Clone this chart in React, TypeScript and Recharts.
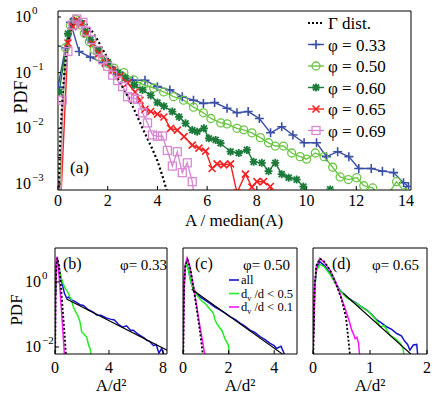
import { LineChart, Line, XAxis, YAxis, Legend } from "recharts";

const SERIF = "'Liberation Serif', 'Times New Roman', serif";

type Pt = [number, number | null];

// ---- panel (a): PDF of A / median(A)
const gammaDist: Pt[] = [
  [0.02, 0.0006], [0.1, 0.008], [0.2, 0.05], [0.3, 0.16], [0.4, 0.35], [0.5, 0.55],
  [0.6, 0.72], [0.7, 0.83], [0.8, 0.88], [0.9, 0.88], [1.0, 0.84], [1.2, 0.7],
  [1.4, 0.53], [1.6, 0.38], [1.8, 0.26], [2.0, 0.18], [2.2, 0.12], [2.4, 0.08],
  [2.6, 0.055], [2.8, 0.038], [3.0, 0.025], [3.2, 0.016], [3.4, 0.01], [3.6, 0.0065],
  [3.8, 0.0042], [4.0, 0.0026], [4.2, 0.0014], [4.4, 0.0007],
];
const phi033: Pt[] = [
  [0, 0.055], [0.3, 0.28], [0.5, 0.8], [0.85, 0.24], [1.3, 0.19], [1.8, 0.15],
  [2.25, 0.11], [2.6, 0.087], [3.0, 0.073], [3.5, 0.073], [4.0, 0.056], [4.5, 0.049],
  [5.0, 0.037], [5.45, 0.032], [5.85, 0.028], [6.3, 0.029], [6.8, 0.023], [7.2, 0.019],
  [7.65, 0.02], [8.1, 0.015], [8.55, 0.0083], [9.0, 0.0107], [9.45, 0.0076], [9.9, 0.0055],
  [10.4, 0.0055], [10.8, 0.0031], [11.25, 0.0038], [11.7, 0.0031], [12.1, 0.0019],
  [12.6, 0.0019], [13.05, 0.0017], [13.5, 0.0016], [13.9, 0.00105], [14.1, 0.0009],
];
const phi050: Pt[] = [
  [0.05, 0.0005], [0.3, 0.28], [0.5, 0.7], [0.7, 0.9], [0.9, 0.72], [1.06, 0.51],
  [1.26, 0.36], [1.46, 0.26], [1.66, 0.19], [1.99, 0.147], [2.25, 0.12], [2.65, 0.1],
  [3.05, 0.074], [3.45, 0.06], [3.85, 0.053], [4.25, 0.045], [4.65, 0.037], [5.05, 0.032],
  [5.45, 0.024], [5.85, 0.019], [6.15, 0.015], [6.55, 0.0125], [6.8, 0.012], [7.2, 0.01],
  [7.47, 0.0094], [7.8, 0.0083], [8.14, 0.0068], [8.47, 0.0055], [8.74, 0.0048],
  [9.07, 0.0048], [9.4, 0.0036], [9.74, 0.0031], [10.0, 0.0028], [10.35, 0.0036],
  [10.7, 0.0031], [11.05, 0.002], [11.35, 0.00134], [11.68, 0.0012], [12.02, 0.0013],
  [12.3, 0.00093], [12.66, 0.00085], [13.1, 0.0005], [13.62, 0.0011], [13.96, 0.0007],
];
const phi060: Pt[] = [
  [0.05, 0.045], [0.4, 0.5], [0.65, 0.85], [0.9, 0.78], [1.1, 0.55], [1.3, 0.39],
  [1.65, 0.25], [2.0, 0.155], [2.4, 0.1], [2.7, 0.08], [3.07, 0.06], [3.4, 0.049],
  [3.73, 0.039], [4.0, 0.029], [4.26, 0.025], [4.6, 0.02], [4.87, 0.016], [5.13, 0.0123],
  [5.4, 0.0093], [5.6, 0.0087], [5.87, 0.01], [6.07, 0.0066], [6.34, 0.0062], [6.54, 0.0054],
  [6.94, 0.0038], [7.27, 0.0036], [7.6, 0.0041], [7.87, 0.0025], [8.2, 0.0024],
  [8.47, 0.0017], [8.74, 0.0024], [9.0, 0.0015], [9.28, 0.0013], [9.6, 0.0012],
  [9.87, 0.0009], [10.1, 0.0005], [10.5, null], [10.95, 0.0008],
];
const phi065: Pt[] = [
  [0.12, 0.0006], [0.4, 0.34], [0.6, 0.67], [0.75, 0.88], [0.95, 0.75], [1.15, 0.5],
  [1.4, 0.33], [1.65, 0.22], [1.9, 0.15], [2.2, 0.11], [2.5, 0.087], [2.8, 0.065],
  [3.1, 0.045], [3.3, 0.032], [3.5, 0.022], [3.73, 0.02], [4.0, 0.018], [4.26, 0.016],
  [4.53, 0.01], [4.8, 0.0093], [5.07, 0.0071], [5.4, 0.005], [5.67, 0.0044], [5.94, 0.0039],
  [6.2, 0.0019], [6.4, 0.0023], [6.67, 0.0022], [6.94, 0.0023], [7.2, 0.0007],
  [7.54, 0.0015], [7.8, 0.00088], [8.0, 0.0011], [8.27, 0.0011], [8.54, 0.0009], [8.65, 0.0006],
];
const phi069: Pt[] = [
  [0.12, 0.0005], [0.17, 0.032], [0.4, 0.24], [0.6, 0.72], [0.76, 0.92], [1.0, 0.8],
  [1.15, 0.55], [1.35, 0.39], [1.6, 0.25], [1.8, 0.17], [2.0, 0.13], [2.2, 0.09],
  [2.4, 0.072], [2.6, 0.056], [2.8, 0.037], [3.0, 0.035], [3.2, 0.033], [3.4, 0.019],
  [3.6, 0.0125], [3.8, 0.0076], [4.0, 0.0072], [4.2, 0.0073], [4.4, 0.004], [4.6, 0.0021],
  [4.8, 0.0038], [5.0, 0.0016], [5.2, 0.0024], [5.4, 0.0011], [5.5, 0.0005],
];

const MAIN_X_TICKS = [0, 2, 4, 6, 8, 10, 12, 14];
const MAIN_Y_MAJOR = [0.001, 0.01, 0.1, 1];
const MINOR = [1, 2, 3, 4, 5, 6, 7, 8, 9];
const MAIN_Y_TICKS = MAIN_Y_MAJOR.flatMap((d) => MINOR.map((k) => d * k)).filter((v) => v <= 1.28);

// ---- panels (b)-(d): PDF of A/d^2
const bAll: Pt[] = [
  [0.05, 0.4], [0.12, 3.5], [0.2, 4.5], [0.3, 2.6], [0.4, 1.6], [0.55, 0.8], [0.7, 0.45],
  [0.86, 0.32], [1.0, 0.34], [1.23, 0.28], [1.5, 0.25], [1.85, 0.2], [2.1, 0.19],
  [2.47, 0.14], [2.8, 0.12], [3.1, 0.097], [3.4, 0.095], [3.8, 0.078], [4.1, 0.072],
  [4.4, 0.068], [4.7, 0.05], [5.0, 0.041], [5.3, 0.045], [5.6, 0.033], [5.8, 0.033],
  [6.1, 0.026], [6.3, 0.023], [6.6, 0.019], [6.8, 0.016], [7.0, 0.015], [7.3, 0.011],
  [7.5, 0.012], [7.7, 0.0065], [7.9, 0.009], [8.1, 0.0055],
];
const bLt05: Pt[] = [
  [0.05, 0.4], [0.12, 3.2], [0.2, 4.2], [0.3, 2.5], [0.45, 1.4], [0.6, 0.9], [0.75, 0.65],
  [0.86, 0.56], [1.0, 0.45], [1.1, 0.35], [1.2, 0.3], [1.36, 0.17], [1.5, 0.13],
  [1.73, 0.084], [1.85, 0.06], [1.98, 0.029], [2.15, 0.025], [2.35, 0.02], [2.5, 0.011],
  [2.6, 0.009], [2.7, 0.005],
];
const bLt01: Pt[] = [
  [0.0, 0.003], [0.05, 0.6], [0.1, 4], [0.15, 6], [0.25, 3], [0.35, 0.8], [0.45, 0.2],
  [0.55, 0.05], [0.65, 0.012], [0.72, 0.004],
];
const bGamma: Pt[] = [
  [0.0, 0.001], [0.05, 0.5], [0.1, 3.2], [0.18, 5.5], [0.3, 3.2], [0.4, 1.2], [0.5, 0.35],
  [0.6, 0.1], [0.7, 0.028], [0.8, 0.007], [0.85, 0.004],
];
const bFit: Pt[] = [[0.85, 0.3], [8.3, 0.008]];

const cAll: Pt[] = [
  [0.02, 0.3], [0.08, 2.5], [0.15, 3.8], [0.23, 2.6], [0.35, 1.0], [0.45, 0.6], [0.6, 0.45],
  [0.75, 0.35], [0.95, 0.28], [1.18, 0.22], [1.4, 0.17], [1.62, 0.14], [1.85, 0.11],
  [2.06, 0.086], [2.3, 0.07], [2.5, 0.054], [2.7, 0.045], [2.94, 0.033], [3.15, 0.028],
  [3.38, 0.021], [3.6, 0.017], [3.82, 0.013], [4.0, 0.011], [4.1, 0.009], [4.3, 0.0105],
  [4.47, 0.0055],
];
const cLt05: Pt[] = [
  [0.02, 0.3], [0.08, 2.4], [0.15, 3.6], [0.23, 2.5], [0.35, 1.0], [0.45, 0.6], [0.6, 0.4],
  [0.8, 0.27], [0.96, 0.22], [1.1, 0.17], [1.2, 0.14], [1.33, 0.11], [1.4, 0.07],
  [1.47, 0.054], [1.6, 0.04], [1.7, 0.033], [1.84, 0.018], [1.95, 0.013], [1.99, 0.0115],
  [2.05, 0.005],
];
const cLt01: Pt[] = [
  [0.0, 0.003], [0.05, 0.8], [0.1, 3.5], [0.18, 5.5], [0.3, 3.0], [0.45, 0.8], [0.6, 0.18],
  [0.75, 0.04], [0.9, 0.01], [0.97, 0.005],
];
const cGamma: Pt[] = [
  [0.0, 0.001], [0.05, 0.6], [0.1, 3.2], [0.2, 4.8], [0.3, 3.0], [0.45, 0.75], [0.6, 0.15],
  [0.75, 0.028], [0.88, 0.005],
];
const cFit: Pt[] = [[0.38, 0.6], [4.4, 0.0058]];

const dAll: Pt[] = [
  [0.0, 0.01], [0.03, 0.7], [0.06, 2.5], [0.12, 4.2], [0.2, 3.2], [0.3, 1.85], [0.4, 0.9],
  [0.47, 0.57], [0.59, 0.35], [0.68, 0.27], [0.77, 0.22], [0.85, 0.17], [0.94, 0.14],
  [1.03, 0.1], [1.12, 0.068], [1.2, 0.055], [1.29, 0.042], [1.38, 0.035], [1.47, 0.026],
  [1.55, 0.022], [1.61, 0.015], [1.66, 0.012], [1.7, 0.008], [1.76, 0.0115], [1.82, 0.012],
  [1.84, 0.005],
];
const dLt05: Pt[] = [
  [0.0, 0.01], [0.03, 0.6], [0.06, 2.2], [0.12, 3.5], [0.2, 2.9], [0.3, 1.7], [0.4, 0.85],
  [0.47, 0.55], [0.59, 0.33], [0.7, 0.25], [0.8, 0.2], [0.9, 0.15], [1.0, 0.11], [1.1, 0.07],
  [1.18, 0.042], [1.25, 0.045], [1.35, 0.023], [1.45, 0.018], [1.53, 0.013], [1.58, 0.009],
  [1.6, 0.005],
];
const dLt01: Pt[] = [
  [0.0, 0.005], [0.03, 0.7], [0.06, 3.0], [0.12, 5.4], [0.2, 4.0], [0.3, 2.3], [0.4, 1.0],
  [0.47, 0.45], [0.55, 0.18], [0.59, 0.11], [0.64, 0.06], [0.68, 0.033], [0.71, 0.025],
  [0.74, 0.018], [0.77, 0.02], [0.8, 0.013], [0.82, 0.005],
];
const dGamma: Pt[] = [
  [0.0, 0.002], [0.03, 0.8], [0.06, 3.2], [0.12, 5.2], [0.2, 4.2], [0.3, 2.3], [0.4, 0.9],
  [0.5, 0.3], [0.58, 0.08], [0.65, 0.0055],
];
const dFit: Pt[] = [[0.53, 0.45], [1.72, 0.006]];

const SMALL_Y_TICKS = [0.01, 1];

const rows = (pts: Pt[]) => pts.map(([x, y]) => ({ x, y }));

type MarkerKind = "plus" | "circle" | "star" | "cross" | "square";

function marker(kind: MarkerKind, cx: number, cy: number, color: string, key?: any) {
  if (cx == null || cy == null || isNaN(cx) || isNaN(cy)) return <g key={key} />;
  switch (kind) {
    case "plus":
      return <path key={key} d={`M${cx - 4.5},${cy}H${cx + 4.5}M${cx},${cy - 4.5}V${cy + 4.5}`} stroke={color} strokeWidth={1.6} fill="none" />;
    case "circle":
      return <circle key={key} cx={cx} cy={cy} r={4} stroke={color} strokeWidth={1.3} fill="none" />;
    case "star":
      return (
        <path key={key}
          d={`M${cx - 4},${cy}H${cx + 4}M${cx},${cy - 4}V${cy + 4}M${cx - 3},${cy - 3}L${cx + 3},${cy + 3}M${cx - 3},${cy + 3}L${cx + 3},${cy - 3}`}
          stroke={color} strokeWidth={1.8} fill="none" />
      );
    case "cross":
      return <path key={key} d={`M${cx - 3.5},${cy - 3.5}L${cx + 3.5},${cy + 3.5}M${cx - 3.5},${cy + 3.5}L${cx + 3.5},${cy - 3.5}`} stroke={color} strokeWidth={1.6} fill="none" />;
    default:
      return <rect key={key} x={cx - 4} y={cy - 4} width={8} height={8} stroke={color} strokeWidth={1.3} fill="none" />;
  }
}

const mainSeries = [
  { name: "\u03c6 = 0.33", data: phi033, color: "#3a4fa6", kind: "plus" as MarkerKind },
  { name: "\u03c6 = 0.50", data: phi050, color: "#6cc644", kind: "circle" as MarkerKind },
  { name: "\u03c6 = 0.60", data: phi060, color: "#1c7a3a", kind: "star" as MarkerKind },
  { name: "\u03c6 = 0.65", data: phi065, color: "#f22222", kind: "cross" as MarkerKind },
  { name: "\u03c6 = 0.69", data: phi069, color: "#d78ad2", kind: "square" as MarkerKind },
];

const isDecade = (v: number) => Math.abs(Math.log10(v) - Math.round(Math.log10(v))) < 1e-6;

function LogTick(props: any) {
  const { x, y, payload, size = 16 } = props;
  const v = payload.value as number;
  if (!isDecade(v)) return <g />;
  const e = Math.round(Math.log10(v));
  return (
    <g>
      <text x={x} y={y + 5} textAnchor="end" fontFamily={SERIF} fontSize={size} fill="#000">10</text>
      <text x={x + 1} y={y - 3} textAnchor="start" fontFamily={SERIF} fontSize={size * 0.68} fill="#000">
        {e === 0 ? "0" : `\u2212${-e}`}
      </text>
    </g>
  );
}

function MainLegend() {
  return (
    <svg width={115} height={130} style={{ display: "block" }}>
      <line x1={8} x2={24} y1={11} y2={11} stroke="#000" strokeWidth={2.2} strokeDasharray="2 2" />
      <text x={28} y={17} fontFamily={SERIF} fontSize={17}>{"\u0393  dist."}</text>
      {mainSeries.map((s, i) => {
        const cy = 11 + 21.5 * (i + 1);
        return (
          <g key={s.name}>
            <line x1={8} x2={24} y1={cy} y2={cy} stroke={s.color} strokeWidth={1.4} />
            {marker(s.kind, 16, cy, s.color)}
            <text x={28} y={cy + 6} fontFamily={SERIF} fontSize={17}>{s.name}</text>
          </g>
        );
      })}
    </svg>
  );
}

const axisText = { fontFamily: SERIF, fontSize: 16, fill: "#000" };

function MainPanel() {
  const xd: [number, number] = [0, 14.2];
  const yd: [number, number] = [0.00078, 1.28];
  return (
    <LineChart width={436} height={230} margin={{ top: 10, right: 24, bottom: 0, left: 0 }}>
      <XAxis xAxisId="b" type="number" dataKey="x" domain={xd} ticks={MAIN_X_TICKS} allowDataOverflow
        height={40} tickSize={-4} tickMargin={9} stroke="#000" tick={axisText} />
      <XAxis xAxisId="t" orientation="top" type="number" dataKey="x" domain={xd} ticks={MAIN_X_TICKS}
        allowDataOverflow height={1} tickSize={-4} tick={false} stroke="#000" />
      <YAxis yAxisId="l" type="number" scale="log" domain={yd} ticks={MAIN_Y_TICKS} allowDataOverflow
        width={58} tickSize={-3} tickMargin={30} stroke="#000" tick={<LogTick size={16} />} />
      <YAxis yAxisId="r" orientation="right" type="number" scale="log" domain={yd} ticks={MAIN_Y_TICKS}
        allowDataOverflow width={1} tickSize={-3} tick={false} stroke="#000" />
      {mainSeries.map((s) => (
        <Line key={s.name} xAxisId="b" yAxisId="l" data={rows(s.data)} dataKey="y" stroke={s.color}
          strokeWidth={1.4} connectNulls={false} activeDot={false} isAnimationActive={false}
          dot={(p: any) => marker(s.kind, p.cx, p.cy, s.color, p.index)} />
      ))}
      <Line xAxisId="b" yAxisId="l" data={rows(gammaDist)} dataKey="y" stroke="#000" strokeWidth={2.2}
        strokeDasharray="2 2.5" dot={false} activeDot={false} isAnimationActive={false} />
      <Legend layout="vertical" align="center" verticalAlign="middle" content={() => <MainLegend />}
        wrapperStyle={{ left: 300, top: 12, width: 115, height: 130 }} />
      <text x={70} y={173} fontFamily={SERIF} fontSize={17}>(a)</text>
      <text x={234} y={226} textAnchor="middle" fontFamily={SERIF} fontSize={17}>A / median(A)</text>
      <text x={21} y={97} textAnchor="middle" dominantBaseline="central" fontFamily={SERIF} fontSize={18}
        transform="rotate(-90 21 97)">PDF</text>
    </LineChart>
  );
}

const SMALL_COLORS = { all: "#1414d2", lt05: "#22ee22", lt01: "#ff14ff" };

function SmallLegend() {
  const items = [
    { c: SMALL_COLORS.all, t: ["all", "", ""] },
    { c: SMALL_COLORS.lt05, t: ["d", "v", " /d < 0.5"] },
    { c: SMALL_COLORS.lt01, t: ["d", "v", " /d < 0.1"] },
  ];
  return (
    <svg width={72} height={42} style={{ display: "block" }}>
      {items.map((it, i) => {
        const cy = 7 + 13.5 * i;
        return (
          <g key={i}>
            <line x1={1} x2={11} y1={cy} y2={cy} stroke={it.c} strokeWidth={1.6} />
            <text x={13} y={cy + 4} fontFamily={SERIF} fontSize={12.5}>
              {it.t[0]}
              {it.t[1] ? <tspan dy={3} fontSize={8}>{it.t[1]}</tspan> : null}
              {it.t[2] ? <tspan dy={it.t[1] ? -3 : 0}>{it.t[2]}</tspan> : null}
            </text>
          </g>
        );
      })}
    </svg>
  );
}

interface SmallProps {
  left: number;
  width: number;
  marginRight: number;
  yWidth: number;
  xMax: number;
  xTicks: number[];
  yLabels: boolean;
  all: Pt[];
  lt05: Pt[];
  lt01: Pt[];
  gamma: Pt[];
  fit: Pt[];
  tag: string;
  tagX: number;
  phi: string;
  phiX: number;
  legend?: boolean;
}

const TOP = 232;

function SmallPanel(p: SmallProps) {
  const xd: [number, number] = [0, p.xMax];
  const yd: [number, number] = [0.0061, 11.1];
  const plotLeft = p.left + p.yWidth;
  const plotRight = p.left + p.width - p.marginRight - 1;
  const lines = [
    { d: p.all, c: SMALL_COLORS.all, w: 1.5, dash: undefined },
    { d: p.lt05, c: SMALL_COLORS.lt05, w: 1.5, dash: undefined },
    { d: p.lt01, c: SMALL_COLORS.lt01, w: 1.5, dash: undefined },
    { d: p.fit, c: "#000", w: 1.1, dash: undefined },
    { d: p.gamma, c: "#000", w: 1.8, dash: "2 2" },
  ];
  return (
    <div style={{ position: "absolute", left: p.left, top: TOP }}>
      <LineChart width={p.width} height={164} margin={{ top: 15, right: p.marginRight, bottom: 0, left: 0 }}>
        <XAxis xAxisId="b" type="number" dataKey="x" domain={xd} ticks={p.xTicks} allowDataOverflow
          height={42} tickSize={-4} tickMargin={12} stroke="#000" tick={axisText} />
        <XAxis xAxisId="t" orientation="top" type="number" dataKey="x" domain={xd} ticks={p.xTicks}
          allowDataOverflow height={1} tickSize={-4} tick={false} stroke="#000" />
        <YAxis yAxisId="l" type="number" scale="log" domain={yd} ticks={SMALL_Y_TICKS} allowDataOverflow
          width={p.yWidth} tickSize={-4} tickMargin={18} stroke="#000"
          tick={p.yLabels ? <LogTick size={16} /> : false} />
        <YAxis yAxisId="r" orientation="right" type="number" scale="log" domain={yd} ticks={SMALL_Y_TICKS}
          allowDataOverflow width={1} tickSize={-4} tick={false} stroke="#000" />
        {lines.map((l, i) => (
          <Line key={i} xAxisId="b" yAxisId="l" data={rows(l.d)} dataKey="y" stroke={l.c} strokeWidth={l.w}
            strokeDasharray={l.dash} dot={false} activeDot={false} isAnimationActive={false} />
        ))}
        {p.legend ? (
          <Legend layout="vertical" align="center" verticalAlign="middle" content={() => <SmallLegend />}
            wrapperStyle={{ left: 228 - p.left, top: 273 - TOP, width: 72, height: 42 }} />
        ) : null}
        <text x={p.tagX - p.left} y={269 - TOP} fontFamily={SERIF} fontSize={16}>{p.tag}</text>
        <text x={p.phiX - p.left} y={270 - TOP} fontFamily={SERIF} fontSize={15}>{p.phi}</text>
        <text x={(plotLeft + plotRight) / 2 - p.left} y={391 - TOP} textAnchor="middle" fontFamily={SERIF}
          fontSize={17}>A/d{"\u00b2"}</text>
        {p.yLabels ? (
          <text x={16} y={310 - TOP} textAnchor="middle" dominantBaseline="central" fontFamily={SERIF}
            fontSize={17} transform={`rotate(-90 16 ${310 - TOP})`}>PDF</text>
        ) : null}
      </LineChart>
    </div>
  );
}

export default function App() {
  return (
    <div style={{ position: "absolute", left: 0, top: 0, width: 436, height: 396, background: "#fff" }}>
      <div style={{ position: "absolute", left: 0, top: 0 }}>
        <MainPanel />
      </div>
      <SmallPanel left={0} width={170} marginRight={2} yWidth={55} xMax={8.3} xTicks={[0, 4, 8]} yLabels
        all={bAll} lt05={bLt05} lt01={bLt01} gamma={bGamma} fit={bFit}
        tag="(b)" tagX={63} phi={"\u03c6= 0.33"} phiX={120} />
      <SmallPanel left={172} width={128} marginRight={2} yWidth={11} xMax={5} xTicks={[0, 2, 4]} yLabels={false}
        all={cAll} lt05={cLt05} lt01={cLt01} gamma={cGamma} fit={cFit}
        tag="(c)" tagX={195} phi={"\u03c6= 0.50"} phiX={243} legend />
      <SmallPanel left={302} width={134} marginRight={8} yWidth={11} xMax={2} xTicks={[0, 1, 2]} yLabels={false}
        all={dAll} lt05={dLt05} lt01={dLt01} gamma={dGamma} fit={dFit}
        tag="(d)" tagX={332} phi={"\u03c6= 0.65"} phiX={372} />
    </div>
  );
}
